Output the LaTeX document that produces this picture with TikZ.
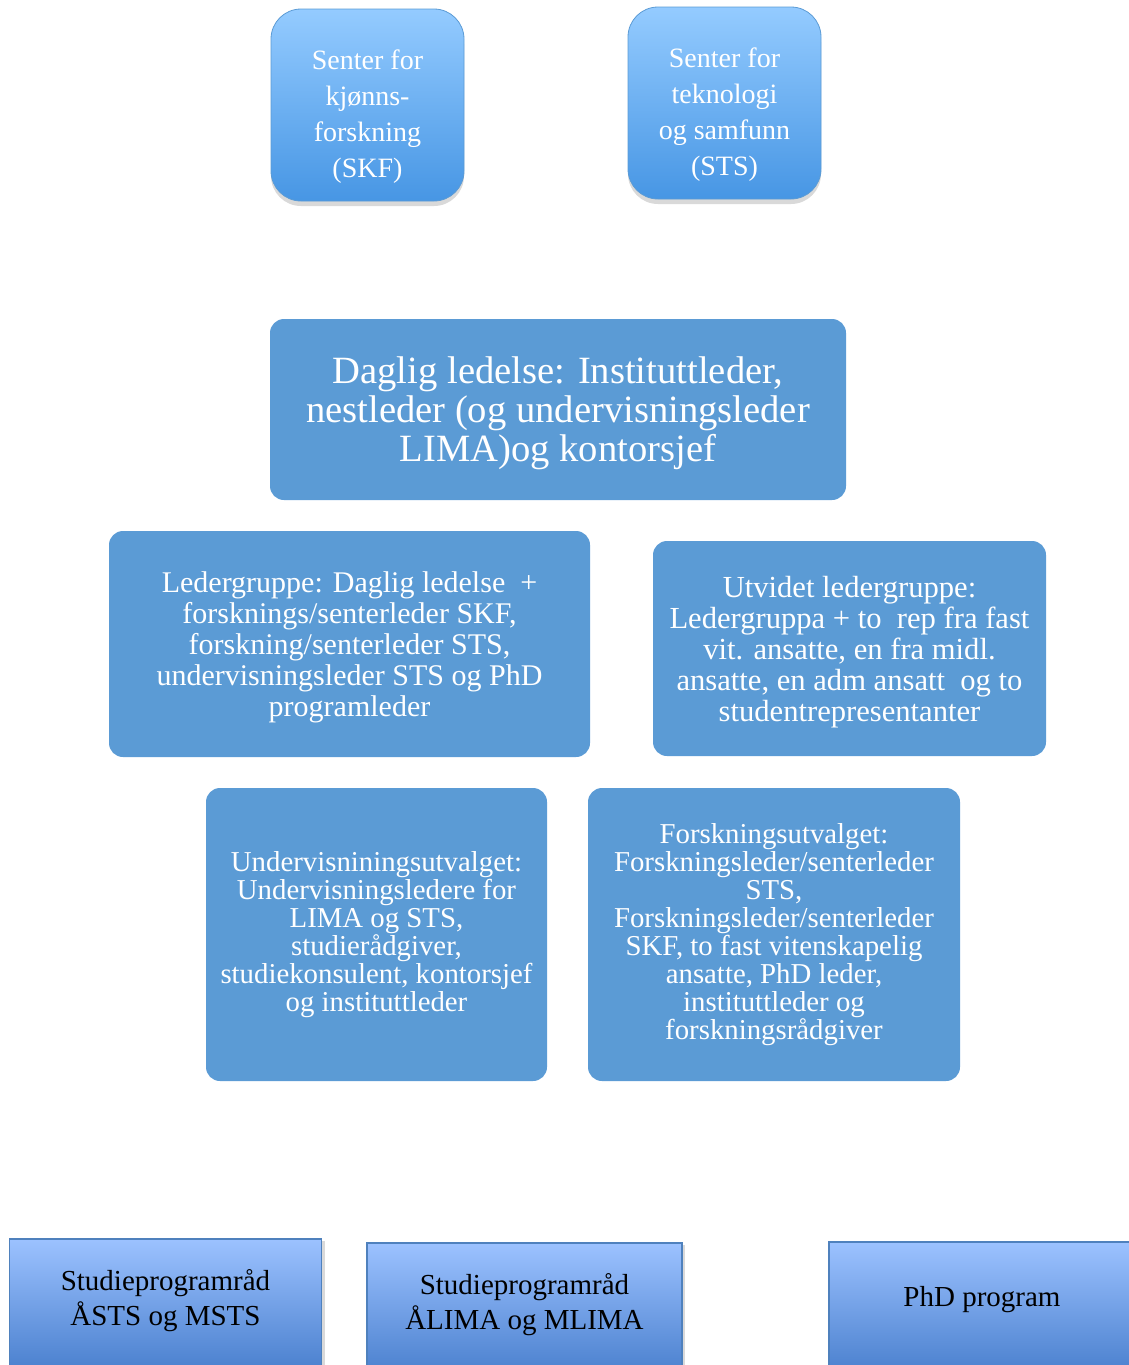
\documentclass[tikz,border=0pt]{standalone}
\usepackage{fontspec}
\setmainfont{Liberation Serif}
\usepackage{xcolor}
\usetikzlibrary{shadows}
\definecolor{senterTop}{HTML}{94CBFF}
\definecolor{senterBot}{HTML}{4796E4}
\definecolor{flatBlue}{HTML}{5B9BD5}
\definecolor{progTop}{HTML}{9CC2FF}
\definecolor{progBot}{HTML}{4A80CE}
\definecolor{progLine}{HTML}{4F81BD}
\newcommand{\toppad}{\rule{0pt}{21pt}}
\newcommand{\botpad}{\rule[-9pt]{0pt}{0pt}}

\begin{document}
\begin{tikzpicture}[x=0.5pt, y=-0.5pt,
                        senter/.style={rectangle, rounded corners=15pt, draw=flatBlue, line width=0.4pt,
                                top color=senterTop, bottom color=senterBot, text=white, align=center,
                                minimum width=96.5pt, minimum height=96pt, inner sep=0pt,
                                drop shadow={shadow xshift=0pt, shadow yshift=-2.5pt, opacity=0.3},
                                font=\fontsize{14}{18}\selectfont},
                        ledelse/.style={rectangle, rounded corners=7pt, fill=flatBlue, text=white,
                                align=center, inner sep=0pt},
                        program/.style={rectangle, draw=progLine, line width=0.8pt,
                                top color=progTop, bottom color=progBot, align=center, anchor=north,
                                minimum width=156pt, minimum height=66pt, inner sep=0pt,
                                drop shadow={shadow xshift=1.5pt, shadow yshift=-1pt, opacity=0.3},
                                font=\fontsize{14.5}{17.5}\selectfont}]
                        \useasboundingbox (0, 0) rectangle (1129, 1365);
                        \clip (0, 0) rectangle (1129, 1365);

                        \node[senter] (SKF) at (367.5, 105) {\toppad Senter for\\kjønns-\\forskning\\(SKF)};
                        \node[senter] (STS) at (724.5, 103) {\toppad Senter for\\teknologi\\og samfunn\\(STS)};

                        \node[ledelse, minimum width=288pt, minimum height=90.5pt,
                                font=\fontsize{19.3}{19.5}\selectfont] (Daglig) at (558, 409.5)
                                {\rule{0pt}{17pt}Daglig ledelse: Instituttleder,\\nestleder (og undervisningsleder\\LIMA)og kontorsjef};

                        \node[ledelse, minimum width=240.5pt, minimum height=113pt,
                                font=\fontsize{15}{15.5}\selectfont] (Leder) at (349.5, 644)
                                {\rule{0pt}{14pt}Ledergruppe: Daglig ledelse~~+\\forsknings/senterleder SKF,\\forskning/senterleder STS,\\undervisningsleder STS og PhD\\programleder};
                        \node[ledelse, minimum width=196.5pt, minimum height=107.5pt,
                                font=\fontsize{15.3}{15.5}\selectfont] (Utvidet) at (849.5, 648.5)
                                {\rule{0pt}{14pt}Utvidet ledergruppe:\\Ledergruppa + to~~rep fra fast\\vit. ansatte, en fra midl.\\ansatte, en adm ansatt~~og to\\studentrepresentanter};

                        \node[ledelse, minimum width=170.5pt, minimum height=146.5pt,
                                font=\fontsize{14.4}{14}\selectfont] (Underv) at (376.5, 934.5)
                                {Undervisniningsutvalget:\\Undervisningsledere for\\LIMA og STS,\\studierådgiver,\\studiekonsulent, kontorsjef\\og instituttleder};
                        \node[ledelse, minimum width=186pt, minimum height=146.5pt,
                                font=\fontsize{14.4}{14}\selectfont] (Forsk) at (774, 934.5)
                                {Forskningsutvalget:\\Forskningsleder/senterleder\\STS,\\Forskningsleder/senterleder\\SKF, to fast vitenskapelig\\ansatte, PhD leder,\\instituttleder og\\forskningsrådgiver};

                        \node[program] (ASTS) at (165.5, 1238) {Studieprogramråd\\ÅSTS og MSTS\rule[-7pt]{0pt}{0pt}};
                        \node[program, minimum width=157.5pt] (ALIMA) at (524.5, 1242) {Studieprogramråd\\ÅLIMA og MLIMA\rule[-7pt]{0pt}{0pt}};
                        \node[program, minimum width=153pt] (PhD) at (982, 1241) {PhD program\rule[-11pt]{0pt}{0pt}};
                    \end{tikzpicture}
\end{document}
